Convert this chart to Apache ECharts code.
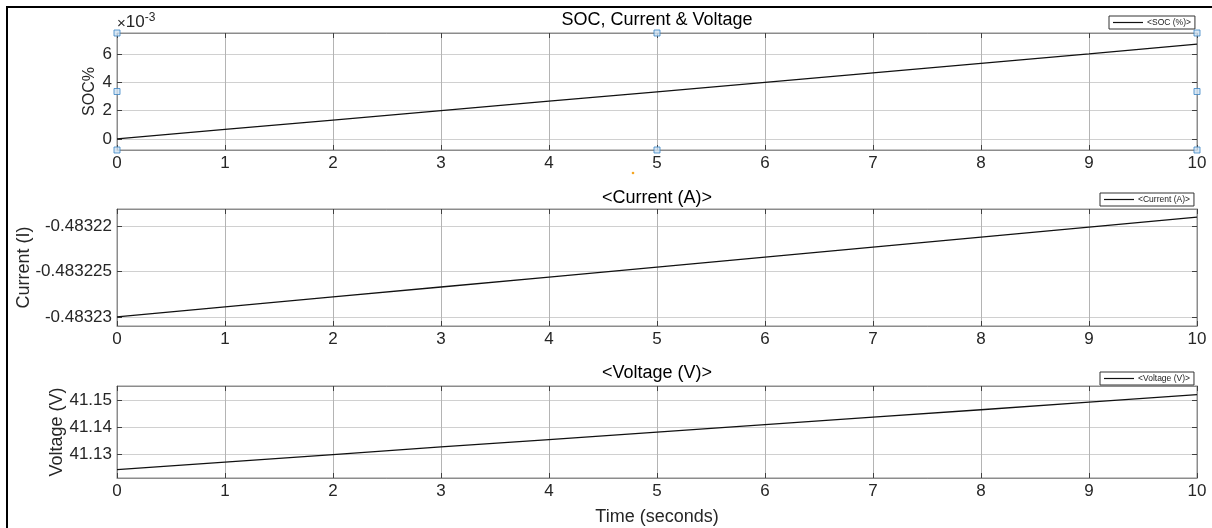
<!DOCTYPE html>
<html>
<head>
<meta charset="utf-8">
<script src="https://cdn.jsdelivr.net/npm/echarts@6/dist/echarts.min.js"></script>
<style>
  html, body { margin: 0; padding: 0; background: #fff; }
  #frame { position: absolute; left: 6px; top: 6px; width: 1206px; height: 522px; border-left: 2px solid #000; border-top: 2px solid #000; box-sizing: border-box; }
  #chart { position: absolute; left: 0; top: 0; width: 1212px; height: 528px; }
</style>
</head>
<body>
<div id="frame"></div>
<div id="chart"></div>
<script>
// ---- data ----
var timeSeconds = [0, 1, 2, 3, 4, 5, 6, 7, 8, 9, 10];
// SOC in units of 1e-3 (%)
var socValues = [0, 0.67, 1.33, 2.00, 2.67, 3.33, 4.00, 4.67, 5.33, 6.00, 6.70];
var currentValues = [-0.48323, -0.4832289, -0.4832278, -0.4832267, -0.4832256, -0.4832245, -0.4832234, -0.4832223, -0.4832212, -0.4832201, -0.4832190];
var voltageValues = [41.1244, 41.1272, 41.1300, 41.1328, 41.1355, 41.1383, 41.1411, 41.1439, 41.1466, 41.1494, 41.1522];

var socTicks = [0, 2, 4, 6];
var socTickLabels = ['0', '2', '4', '6'];
var currentTicks = [-0.48323, -0.483225, -0.48322];
var currentTickLabels = ['-0.48323', '-0.483225', '-0.48322'];
var voltageTicks = [41.13, 41.14, 41.15];
var voltageTickLabels = ['41.13', '41.14', '41.15'];

var socRange = [-0.78, 7.48];
var currentRange = [-0.483231, -0.4832181];
var voltageRange = [41.1213, 41.1554];

var seriesNames = ['<SOC (%)>', '<Current (A)>', '<Voltage (V)>'];
var panelTitles = ['SOC, Current & Voltage', '<Current (A)>', '<Voltage (V)>'];
var yNames = ['SOC%', 'Current (I)', 'Voltage (V)'];
var xName = 'Time (seconds)';

// ---- layout ----
var FONT = '"Liberation Sans", Arial, Helvetica, sans-serif';
var TXT = '#262626';
var grids = [
  { left: 117, right: 15, top: 33, height: 117 },
  { left: 117, right: 15, top: 209, height: 117 },
  { left: 117, right: 15, top: 386, height: 92 }
];
var ranges = [socRange, currentRange, voltageRange];
var ticks = [socTicks, currentTicks, voltageTicks];
var tickLabels = [socTickLabels, currentTickLabels, voltageTickLabels];
var values = [socValues, currentValues, voltageValues];
var nameGaps = [19, 84, 51];
var nameSizes = [16, 18, 18];

function pairs(xs, ys) { return xs.map(function (x, i) { return [x, ys[i]]; }); }

var xAxes = [], yAxes = [], series = [], gridOpts = [];
for (var g = 0; g < 3; g++) {
  gridOpts.push(Object.assign({ show: true, borderColor: '#8c8c8c', borderWidth: 1, backgroundColor: '#fff' }, grids[g]));
  xAxes.push({
    type: 'value', gridIndex: g, min: 0, max: 10, interval: 1, position: 'bottom',
    name: g === 2 ? xName : '', nameLocation: 'middle', nameGap: 30, nameMoveOverlap: false,
    nameTextStyle: { fontFamily: FONT, fontSize: 18, color: TXT },
    axisLine: { show: true, onZero: false, lineStyle: { color: '#8c8c8c' } },
    axisTick: { show: true, inside: true, length: 5, lineStyle: { color: '#404040' } },
    axisLabel: { fontFamily: FONT, fontSize: 17, color: TXT, margin: 5 },
    splitLine: { show: true, lineStyle: { color: '#b4b4b4', width: 1 } }
  });
  xAxes.push({
    type: 'value', gridIndex: g, min: 0, max: 10, interval: 1, position: 'top',
    axisLine: { show: true, onZero: false, lineStyle: { color: '#8c8c8c' } },
    axisTick: { show: true, inside: true, length: 5, lineStyle: { color: '#404040' } },
    axisLabel: { show: false }, splitLine: { show: false }
  });
  var lbls = tickLabels[g], tks = ticks[g];
  var fmt = (function (tks, lbls) {
    return function (v) {
      for (var i = 0; i < tks.length; i++) { if (Math.abs(v - tks[i]) < 1e-9) return lbls[i]; }
      return '';
    };
  })(tks, lbls);
  yAxes.push({
    type: 'value', gridIndex: g, min: ranges[g][0], max: ranges[g][1], position: 'left',
    name: yNames[g], nameLocation: 'middle', nameGap: nameGaps[g], nameRotate: 90, nameMoveOverlap: false,
    nameTextStyle: { fontFamily: FONT, fontSize: nameSizes[g], color: TXT },
    axisLine: { show: true, onZero: false, lineStyle: { color: '#8c8c8c' } },
    axisTick: { show: true, inside: true, length: 5, customValues: tks, lineStyle: { color: '#404040' } },
    axisLabel: { fontFamily: FONT, fontSize: 17, color: TXT, margin: 5, customValues: tks, formatter: fmt },
    splitLine: { show: true, lineStyle: { color: '#d0d0d0', width: 1 } }
  });
  yAxes.push({
    type: 'value', gridIndex: g, min: ranges[g][0], max: ranges[g][1], position: 'right',
    axisLine: { show: true, onZero: false, lineStyle: { color: '#8c8c8c' } },
    axisTick: { show: true, inside: true, length: 5, customValues: tks, lineStyle: { color: '#404040' } },
    axisLabel: { show: false }, splitLine: { show: false }
  });
  series.push({
    type: 'line', name: seriesNames[g], xAxisIndex: 2 * g, yAxisIndex: 2 * g,
    data: pairs(timeSeconds, values[g]), showSymbol: false, symbol: 'none',
    lineStyle: { color: '#111', width: 1.3 }, itemStyle: { color: '#111' }, z: 5
  });
}

// selection handles on the first axes (corners & midpoints of its box)
var handleX = [0, 5, 10, 0, 10, 0, 5, 10];
var handleY = [socRange[1], socRange[1], socRange[1], (socRange[0] + socRange[1]) / 2, (socRange[0] + socRange[1]) / 2, socRange[0], socRange[0], socRange[0]];
series.push({
  type: 'scatter', xAxisIndex: 0, yAxisIndex: 0, data: pairs(handleX, handleY),
  symbol: 'rect', symbolSize: 6, clip: false, silent: true,
  itemStyle: { color: '#cfe2f3', borderColor: '#3b84c4', borderWidth: 1 }, z: 10
});

var legendBoxes = [
  { left: 1109, top: 16 },
  { left: 1100, top: 193 },
  { left: 1100, top: 372 }
];
var legends = legendBoxes.map(function (p, i) {
  return {
    data: [{ name: seriesNames[i], icon: 'rect' }],
    left: p.left, top: p.top, orient: 'horizontal',
    itemWidth: 30, itemHeight: 1.2, itemGap: 4,
    padding: [2, 4, 2, 4], borderColor: '#333', borderWidth: 1, backgroundColor: '#fff',
    textStyle: { fontFamily: FONT, fontSize: 8.5, color: '#222', padding: [0, 0, 0, -1] },
    itemStyle: { color: '#111' }
  };
});

var titles = [
  { text: panelTitles[0], left: 657, top: 11, textAlign: 'center' },
  { text: panelTitles[1], left: 657, top: 189, textAlign: 'center' },
  { text: panelTitles[2], left: 657, top: 364, textAlign: 'center' }
].map(function (t) {
  t.padding = 0;
  t.textStyle = { fontFamily: FONT, fontSize: 18, fontWeight: 'normal', color: '#000' };
  return t;
});

var chart = echarts.init(document.getElementById('chart'), null, { renderer: 'canvas' });
chart.setOption({
  backgroundColor: 'transparent',
  animation: false,
  title: titles,
  legend: legends,
  grid: gridOpts,
  xAxis: xAxes,
  yAxis: yAxes,
  series: series,
  graphic: [
    {
      type: 'text', left: 117, top: 12,
      style: {
        text: '{m|×}{b|10}{s|-3}',
        rich: {
          m: { fontFamily: FONT, fontSize: 15, fill: TXT, verticalAlign: 'bottom' },
          b: { fontFamily: FONT, fontSize: 17, fill: TXT, verticalAlign: 'bottom' },
          s: { fontFamily: FONT, fontSize: 12, fill: TXT, verticalAlign: 'top', padding: [0, 0, 7, 0] }
        }
      }
    },
    { type: 'circle', shape: { cx: 633, cy: 173, r: 1.3 }, style: { fill: '#f5a623' } }
  ]
});
</script>
</body>
</html>
